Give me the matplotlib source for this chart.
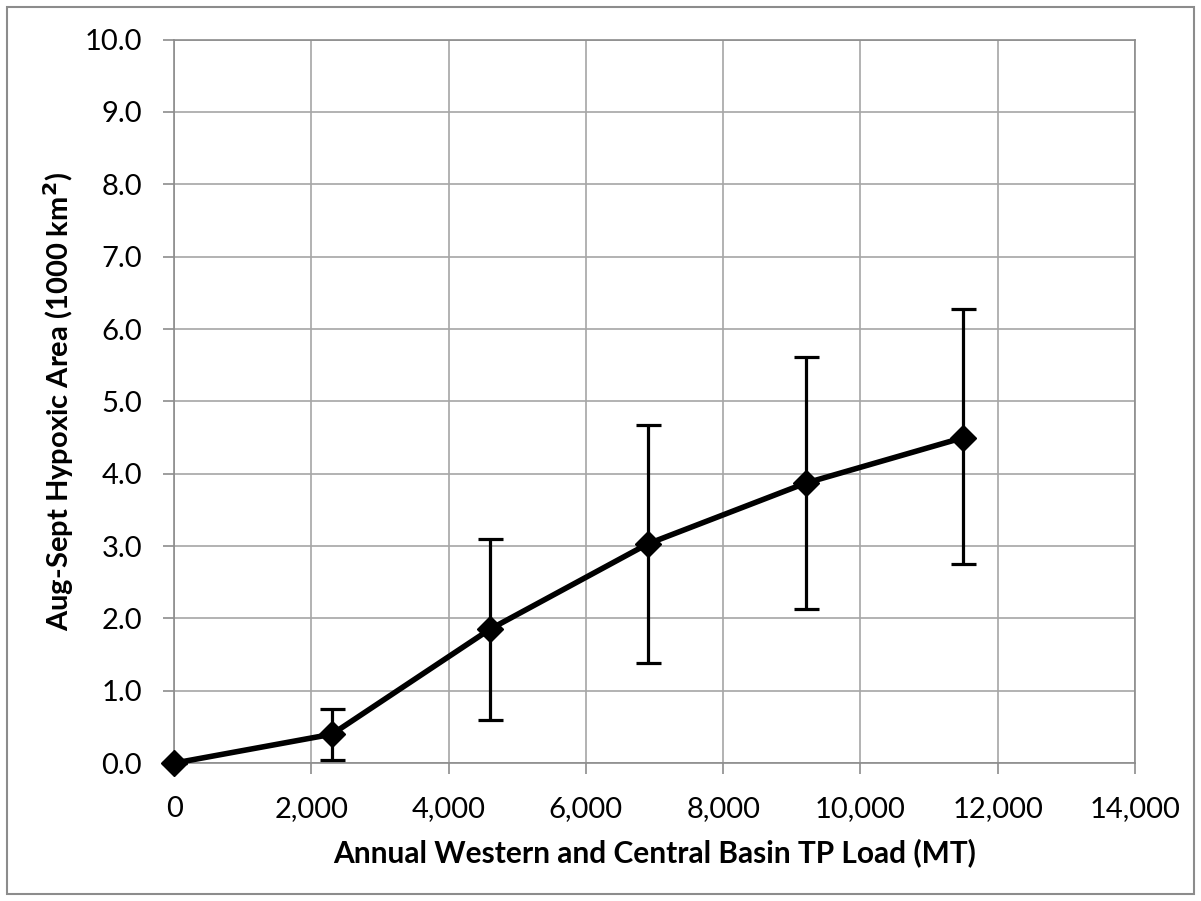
import matplotlib.pyplot as plt
from matplotlib.patches import Rectangle

# data
tp_load = [0, 2300, 4600, 6900, 9200, 11500]
hypoxic_area = [0.0, 0.40, 1.85, 3.03, 3.87, 4.50]
err_low = [0.0, 0.05, 0.60, 1.38, 2.13, 2.75]
err_high = [0.0, 0.75, 3.10, 4.68, 5.62, 6.28]

plt.rcParams['font.family'] = ['Lato', 'DejaVu Sans']

fig = plt.figure(figsize=(12.01, 9.01), dpi=100)
ax = fig.add_axes([0.145, 0.153, 0.800, 0.803])

yerr = [[y - lo for y, lo in zip(hypoxic_area, err_low)],
        [hi - y for y, hi in zip(hypoxic_area, err_high)]]
ax.errorbar(tp_load, hypoxic_area, yerr=yerr, color='black', linewidth=4,
            marker='D', markersize=13, elinewidth=2.3, capsize=9, capthick=2.3,
            zorder=3, clip_on=False)

ax.set_xlim(0, 14000)
ax.set_ylim(0, 10)
ax.set_xticks(range(0, 14001, 2000))
ax.set_xticklabels([f"{v:,}" for v in range(0, 14001, 2000)])
ax.set_yticks([i for i in range(11)])
ax.set_yticklabels([f"{i:.1f}" for i in range(11)])

ax.grid(True, color='#a6a6a6', linewidth=1.2)
ax.set_axisbelow(True)
for s in ax.spines.values():
    s.set_color('#8c8c8c')
    s.set_linewidth(1.2)
ax.tick_params(axis='both', colors='#8c8c8c', labelcolor='black',
               labelsize=21, length=8, width=1.2, direction='out')
ax.tick_params(axis='x', pad=16)
ax.tick_params(axis='y', pad=15)

ax.set_xlabel("Annual Western and Central Basin TP Load (MT)",
              fontsize=21.5, fontweight='bold', labelpad=11)
ax.set_ylabel("Aug-Sept Hypoxic Area (1000 km$^\\mathbf{2}$)",
              fontsize=21, fontweight='bold', labelpad=6)

fig.patches.append(Rectangle((0.006, 0.008), 0.988, 0.984,
                             transform=fig.transFigure, fill=False,
                             edgecolor='#8c8c8c', linewidth=1.5))

fig.savefig('out.png', dpi=100)
